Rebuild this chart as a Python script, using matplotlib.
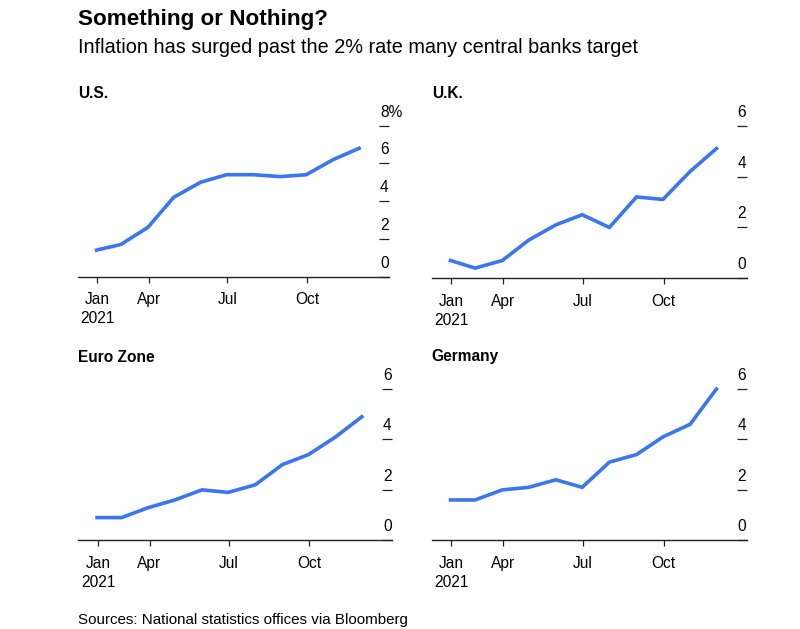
import numpy as np
import pandas as pd
import matplotlib
matplotlib.use("Agg")
import matplotlib.pyplot as plt

plt.rcParams['font.family'] = ['Liberation Sans', 'DejaVu Sans']

# monthly CPI, % y/y, Jan..Nov 2021 (plotted at month end)
months = pd.date_range('2021-01-31', periods=11, freq='ME')
us = [1.4, 1.7, 2.6, 4.2, 5.0, 5.4, 5.4, 5.3, 5.4, 6.2, 6.8]
uk = [0.7, 0.4, 0.7, 1.5, 2.1, 2.5, 2.0, 3.2, 3.1, 4.2, 5.1]
euro = [0.9, 0.9, 1.3, 1.6, 2.0, 1.9, 2.2, 3.0, 3.4, 4.1, 4.9]
germany = [1.6, 1.6, 2.0, 2.1, 2.4, 2.1, 3.1, 3.4, 4.1, 4.6, 6.0]

tick_dates = [months[0] + pd.Timedelta(days=1), pd.Timestamp('2021-04-01'),
              pd.Timestamp('2021-07-01'), pd.Timestamp('2021-10-01')]
tick_labels = ['Jan\n2021', 'Apr', 'Jul', 'Oct']

BLUE = '#3a76f0'
W, H = 800, 629

fig = plt.figure(figsize=(W / 100, H / 100), dpi=100)


def px_axes(x0, x1, ytop, ybot):
    return fig.add_axes([x0 / W, 1 - ybot / H, (x1 - x0) / W, (ybot - ytop) / H])


panels = [
    # title, values, ymax, (x0, x1, ytop, ybot)
    ('U.S.', us, 8, (78, 389, 125.7, 276.5)),
    ('U.K.', uk, 6, (431.7, 746.7, 125.7, 278.3)),
    ('Euro Zone', euro, 6, (78.3, 392, 389, 540.3)),
    ('Germany', germany, 6, (431.7, 746.7, 389, 540.3)),
]

for title, vals, ymax, box in panels:
    x0, x1, ytop, ybot = box
    ax = px_axes(*box)
    ax.plot(months, vals, color=BLUE, lw=2.6, solid_joinstyle='miter', clip_on=False)
    ax.set_xlim(months[0] - pd.Timedelta(days=21.5), months[-1] + pd.Timedelta(days=34.5))
    ax.set_ylim(0, ymax)

    for s in ['top', 'left', 'right']:
        ax.spines[s].set_visible(False)
    ax.spines['bottom'].set_color('#222222')
    ax.spines['bottom'].set_linewidth(1.0)

    ax.set_xticks(tick_dates)
    ax.set_xticklabels(tick_labels, fontsize=11.2, linespacing=1.35)
    ax.tick_params(axis='x', length=4.3, width=0.9, color='#222222', pad=7)

    yt = list(range(0, ymax + 1, 2))
    ax.yaxis.tick_right()
    ax.set_yticks(yt)
    ax.tick_params(axis='y', direction='in', length=7.5, width=0.9,
                   color='#222222', labelright=False)
    for v in yt:
        lbl = f'{v}%' if (ymax == 8 and v == ymax) else str(v)
        ax.annotate(lbl, xy=(1, v), xycoords=('axes fraction', 'data'),
                    xytext=(-9, 9), textcoords='offset pixels',
                    ha='left', va='baseline', fontsize=11.2, annotation_clip=False)

    fig.text(x0 / W, 1 - (ytop - 32) / H, title, fontsize=11.2, fontweight='bold',
             ha='left', va='center')

fig.text(78 / W, 1 - 25 / H, 'Something or Nothing?', fontsize=16.2,
         fontweight='bold', ha='left', va='baseline')
fig.text(78 / W, 1 - 53.3 / H, 'Inflation has surged past the 2% rate many central banks target',
         fontsize=14.3, ha='left', va='baseline')
fig.text(78 / W, 1 - 624 / H, 'Sources: National statistics offices via Bloomberg',
         fontsize=10.9, ha='left', va='baseline')

fig.savefig('out.png', dpi=100)
